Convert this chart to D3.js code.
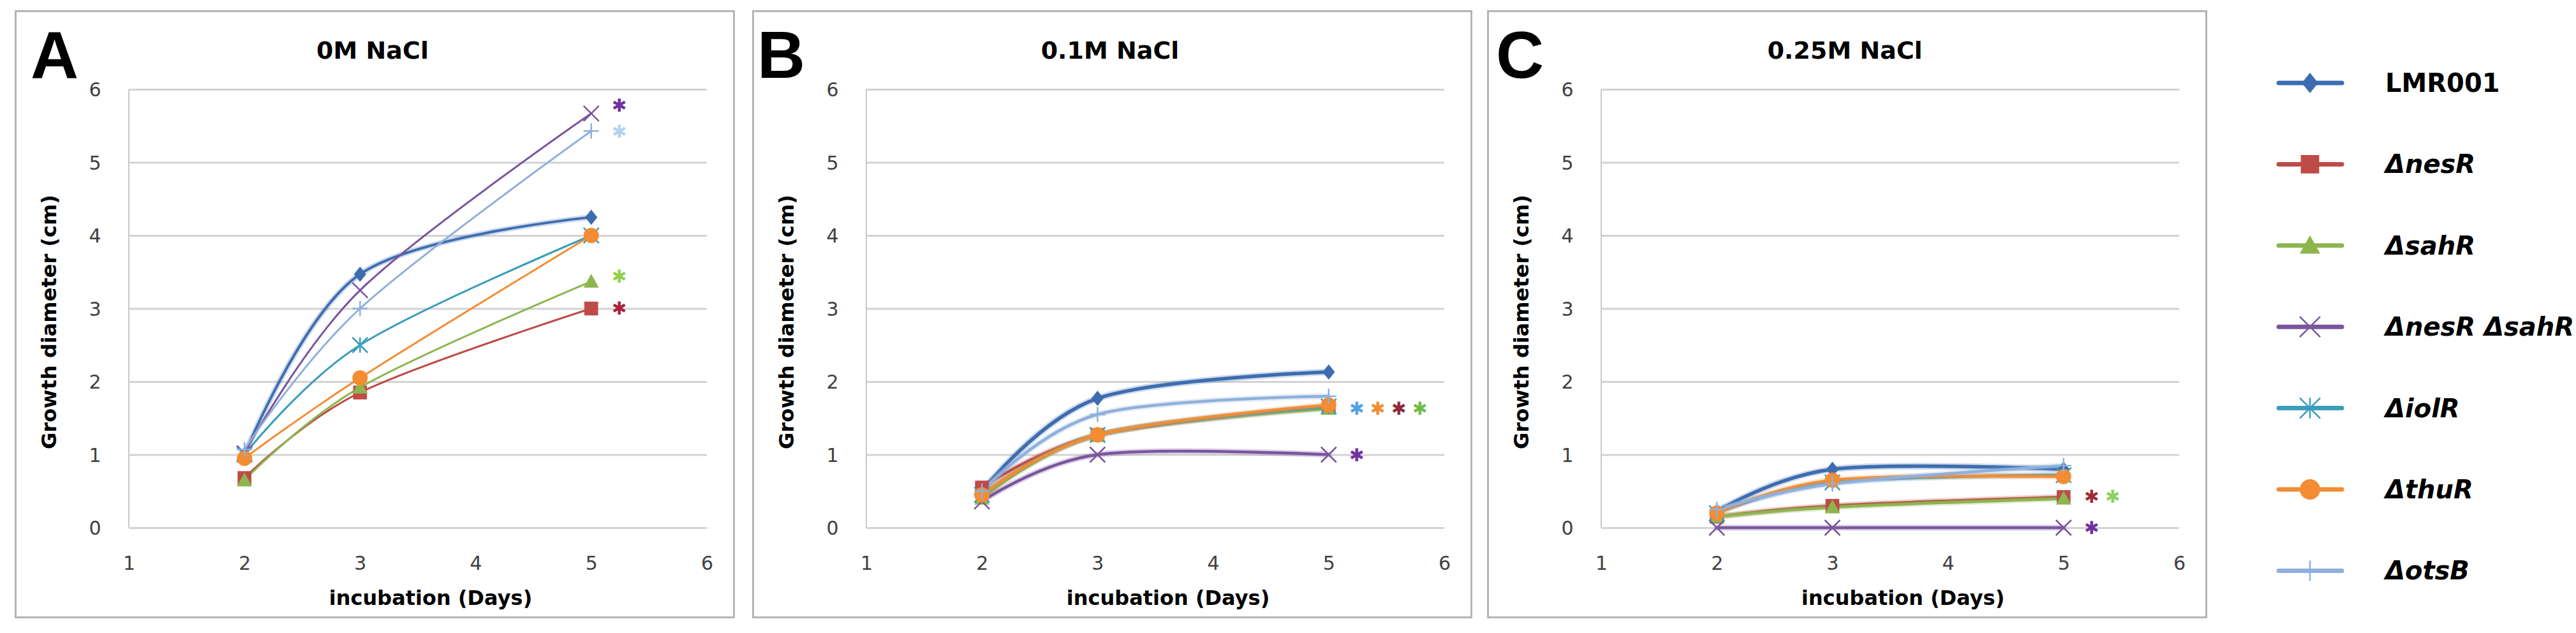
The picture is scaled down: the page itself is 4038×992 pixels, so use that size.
<!DOCTYPE html>
<html>
<head>
<meta charset="utf-8">
<script src="https://cdn.jsdelivr.net/npm/d3@7"></script>
<style>
  body { margin: 0; background: #fff; }
  .sans { font-family: "DejaVu Sans", Verdana, sans-serif; }
</style>
</head>
<body>
<svg id="chart" width="4038" height="992"></svg>
<script>
// growth of strains at 3 salt levels

// data
var days = [2, 3, 5];
var seriesNames = ["LMR001", "ΔnesR", "ΔsahR", "ΔnesR ΔsahR", "ΔiolR", "ΔthuR", "ΔotsB"];
var seriesColors = ["#3D6DB0", "#BE4B48", "#8DB54E", "#7A559E", "#3A9DBC", "#F38C33", "#8FB0DC"];
var seriesMarkers = ["diamond", "square", "triangle", "x", "asterisk", "circle", "plus"];
var panelLetters = ["A", "B", "C"];
var panelTitles = ["0M NaCl", "0.1M NaCl", "0.25M NaCl"];
var xTicks = [1, 2, 3, 4, 5, 6];
var yTicks = [0, 1, 2, 3, 4, 5, 6];

var valuesA = [[1.0, 3.47, 4.25], [0.68, 1.85, 3.0], [0.65, 1.92, 3.37], [1.02, 3.25, 5.67],
               [1.0, 2.5, 4.0], [0.95, 2.05, 4.0], [1.07, 3.0, 5.43]];
var valuesB = [[0.5, 1.77, 2.13], [0.55, 1.27, 1.65], [0.4, 1.27, 1.63], [0.36, 1.0, 1.0],
               [0.45, 1.27, 1.66], [0.45, 1.27, 1.68], [0.5, 1.55, 1.8]];
var valuesC = [[0.22, 0.8, 0.8], [0.15, 0.3, 0.42], [0.15, 0.28, 0.4], [0, 0, 0],
               [0.2, 0.62, 0.72], [0.2, 0.65, 0.7], [0.25, 0.6, 0.85]];

// significance stars (value level + colours of the stars in the row)
var starsA = [{y: 5.78, c: ["#7030A0"]}, {y: 5.42, c: ["#B4D3F0"]}, {y: 3.44, c: ["#92D050"]}, {y: 3.0, c: ["#A5243A"]}];
var starsB = [{y: 1.63, c: ["#4FA3E6", "#F28A30", "#8E2A35", "#6EBE4A"]}, {y: 0.99, c: ["#7030A0"]}];
var starsC = [{y: 0.42, c: ["#A02A38", "#8ED060"]}, {y: 0.0, c: ["#7030A0"]}];

var panels = [
  {values: valuesA, stars: starsA, left: 23, letterX: 25, lw: 3},
  {values: valuesB, stars: starsB, left: 1179, letterX: 8, lw: 4.5},
  {values: valuesC, stars: starsC, left: 2331, letterX: 14, lw: 4.5}
];

var svg = d3.select("#chart");

// marker shapes
function drawMarker(g, type, color, r) {
  if (type == "diamond") {
    g.append("path").attr("d", "M0," + (-r) + "L" + (0.8 * r) + ",0L0," + r + "L" + (-0.8 * r) + ",0Z").attr("fill", color);
  } else if (type == "square") {
    g.append("rect").attr("x", -0.9 * r).attr("y", -0.9 * r).attr("width", 1.8 * r).attr("height", 1.8 * r).attr("fill", color);
  } else if (type == "triangle") {
    g.append("path").attr("d", "M0," + (-r) + "L" + r + "," + (0.8 * r) + "L" + (-r) + "," + (0.8 * r) + "Z").attr("fill", color);
  } else if (type == "circle") {
    g.append("circle").attr("r", r).attr("fill", color);
  } else {
    var d = "";
    if (type == "x" || type == "asterisk") d += "M" + (-r) + "," + (-r) + "L" + r + "," + r + "M" + r + "," + (-r) + "L" + (-r) + "," + r;
    if (type == "asterisk" || type == "plus") d += "M0," + (-r) + "L0," + r;
    if (type == "plus") d += "M" + (-r) + ",0L" + r + ",0";
    g.append("path").attr("d", d).attr("stroke", color).attr("stroke-width", 2.5).attr("fill", "none");
  }
}

panels.forEach(function (p, pi) {
  var g = svg.append("g").attr("transform", "translate(" + p.left + ",16)");

  // frame
  g.append("rect")
    .attr("x", 1.5).attr("y", 1.5)
    .attr("width", 1126).attr("height", 950)
    .attr("fill", "#fff").attr("stroke", "#B4B4B4").attr("stroke-width", 3);

  var x = d3.scaleLinear().domain([1, 6]).range([179, 1085]);
  var y = d3.scaleLinear().domain([0, 6]).range([811, 124]);

  // gridlines
  g.append("g").attr("class", "grid")
    .call(d3.axisLeft(y).tickValues(yTicks).tickSize(-906).tickFormat(""))
    .call(function (a) {
      a.select(".domain").remove();
      a.selectAll("line").attr("stroke", "#D3D3D3").attr("stroke-width", 3).attr("transform", "translate(179,0)");
    });

  // y axis line
  g.append("line").attr("x1", 179).attr("x2", 179).attr("y1", y(6)).attr("y2", y(0))
    .attr("stroke", "#C8C8C8").attr("stroke-width", 2);

  // tick labels
  g.append("g").attr("transform", "translate(126,0)")
    .call(d3.axisLeft(y).tickValues(yTicks).tickSize(0).tickPadding(0).tickFormat(d3.format("d")))
    .call(function (a) {
      a.select(".domain").remove();
      a.selectAll("text").attr("class", "sans").attr("font-size", 30).attr("fill", "#404040")
        .attr("text-anchor", "middle").attr("x", 0).attr("dy", "0.35em");
    });
  g.append("g").attr("transform", "translate(0,866)")
    .call(d3.axisBottom(x).tickValues(xTicks).tickSize(0).tickPadding(0).tickFormat(d3.format("d")))
    .call(function (a) {
      a.select(".domain").remove();
      a.selectAll("text").attr("class", "sans").attr("font-size", 30).attr("fill", "#404040")
        .attr("y", 0).attr("dy", "0.35em");
    });

  // labels
  g.append("text").attr("x", p.letterX).attr("y", 106)
    .attr("font-family", "Liberation Sans, Arial, sans-serif").attr("font-weight", "bold")
    .attr("font-size", 104).text(panelLetters[pi]);
  g.append("text").attr("class", "sans").attr("x", 561).attr("y", 76)
    .attr("text-anchor", "middle").attr("font-size", 38).attr("font-weight", "bold")
    .text(panelTitles[pi]);
  g.append("text").attr("class", "sans").attr("x", 652).attr("y", 932)
    .attr("text-anchor", "middle").attr("font-size", 32).attr("font-weight", "bold")
    .text("incubation (Days)");
  g.append("text").attr("class", "sans")
    .attr("transform", "translate(54," + (y(3) + 21) + ") rotate(-90)")
    .attr("text-anchor", "middle").attr("dominant-baseline", "central")
    .attr("font-size", 32).attr("font-weight", "bold")
    .text("Growth diameter (cm)");

  // lines
  var line = d3.line()
    .x(function (d, i) { return x(days[i]); })
    .y(function (d) { return y(d); })
    .curve(d3.curveCardinal.tension(0));

  p.values.forEach(function (vals, si) {
    var w = p.lw + (si == 0 ? 1 : 0);
    if (pi > 0 || si == 0) {
      g.append("path").attr("d", line(vals)).attr("fill", "none")
        .attr("stroke", seriesColors[si]).attr("stroke-opacity", 0.25)
        .attr("stroke-width", w + 5).attr("stroke-linecap", "round");
    }
    g.append("path").attr("d", line(vals)).attr("fill", "none")
      .attr("stroke", seriesColors[si]).attr("stroke-width", w);
  });
  p.values.forEach(function (vals, si) {
    vals.forEach(function (v, i) {
      var m = g.append("g").attr("transform", "translate(" + x(days[i]) + "," + y(v) + ")");
      drawMarker(m, seriesMarkers[si], seriesColors[si], 12);
    });
  });

  // stars
  p.stars.forEach(function (s) {
    s.c.forEach(function (c, k) {
      g.append("text").attr("class", "sans").attr("x", x(5) + 44 + k * 33).attr("y", y(s.y))
        .attr("text-anchor", "middle").attr("dominant-baseline", "central")
        .attr("font-size", 28).attr("fill", c).text("✱");
    });
  });
});

// legend
var legend = svg.append("g").attr("transform", "translate(3572,130)");
seriesNames.forEach(function (name, i) {
  var row = legend.append("g").attr("transform", "translate(0," + (i * 127.4) + ")");
  row.append("line").attr("x1", 0).attr("x2", 99).attr("y1", 0).attr("y2", 0)
    .attr("stroke", seriesColors[i]).attr("stroke-width", 7).attr("stroke-linecap", "round");
  drawMarker(row.append("g").attr("transform", "translate(49,0)"), seriesMarkers[i], seriesColors[i], 16);
  row.append("text").attr("class", "sans").attr("x", 167).attr("y", 0)
    .attr("dominant-baseline", "central")
    .attr("font-size", 40).attr("font-weight", "bold")
    .attr("font-style", i == 0 ? "normal" : "italic")
    .text(name);
});
</script>
</body>
</html>
